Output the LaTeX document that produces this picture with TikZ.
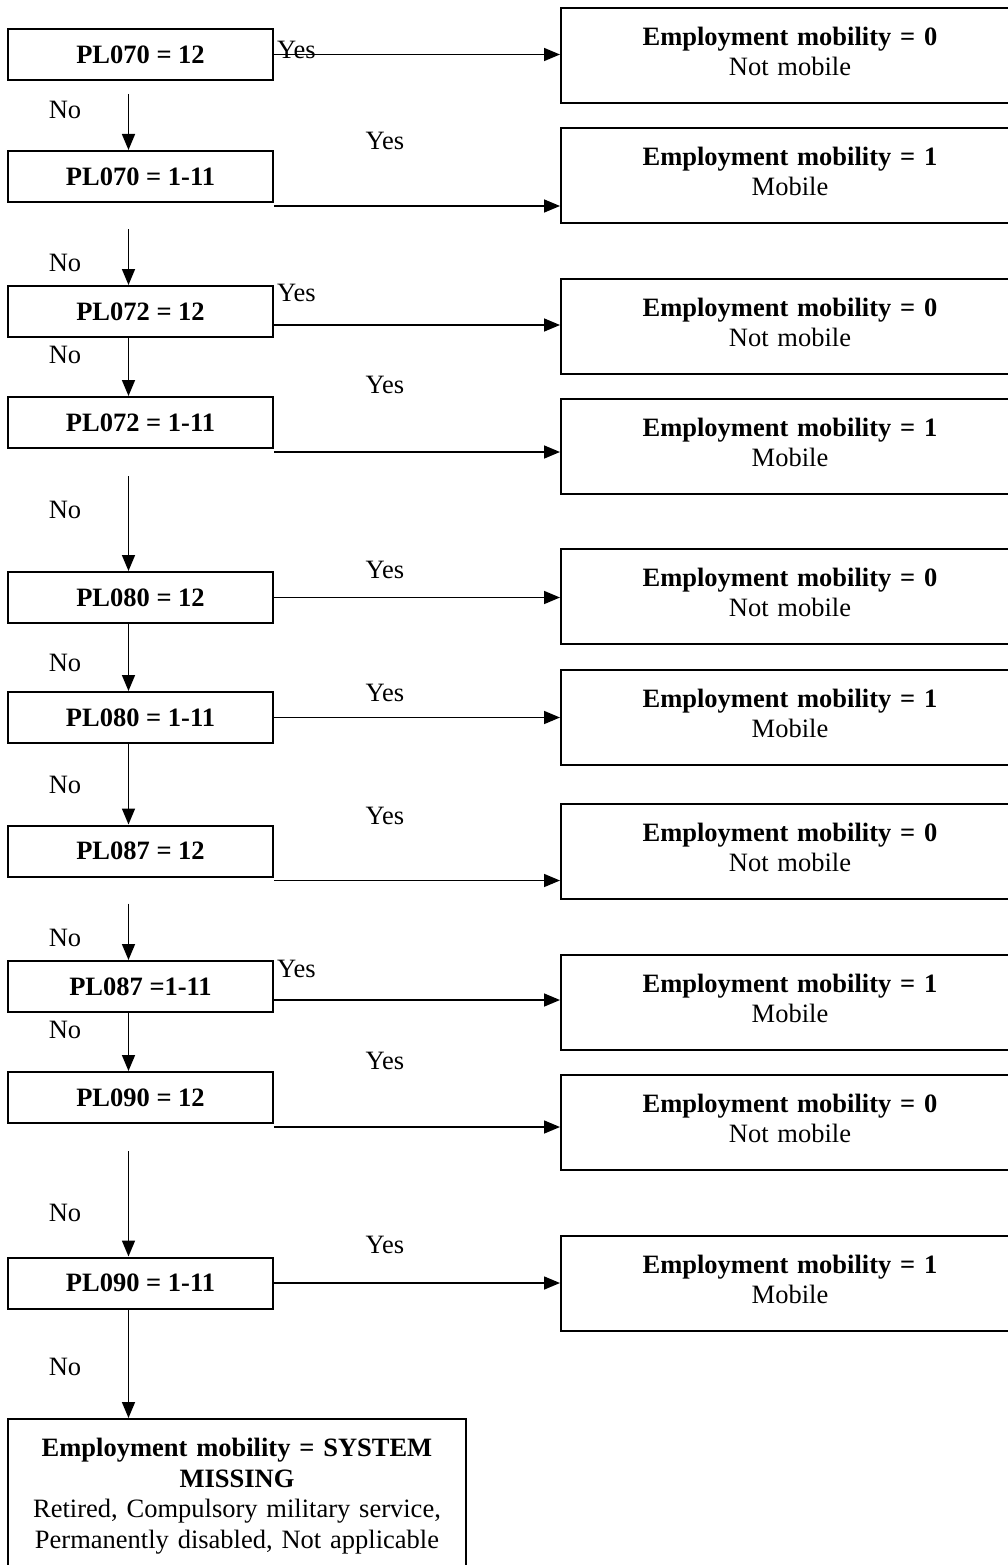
\documentclass[tikz,border=0pt]{standalone}
\usepackage{fontspec}
\setmainfont{Liberation Serif}
\usetikzlibrary{arrows.meta}

\newcommand{\lowstrut}{\rule[-8pt]{0pt}{8pt}}
\tikzset{
  qbox/.style={draw, line width=2pt, minimum width=265pt, minimum height=51pt,
    inner sep=0pt, font=\fontsize{26.5}{30.5}\selectfont\bfseries},
  rbox/.style={draw, line width=2pt, anchor=north west, minimum width=458pt,
    minimum height=95pt, text width=440pt, align=center, inner sep=0pt,
    font=\fontsize{26.5}{30.5}\selectfont},
  lab/.style={inner sep=0pt, font=\fontsize{26.5}{30.5}\selectfont},
  arr/.style={->, line width=1.6pt},
}

\begin{document}
\begin{tikzpicture}[x=1pt, y=-1pt, >={Triangle[length=16pt,width=13pt]}]
            \useasboundingbox (0,0) rectangle (1007,1565);

            % Cau hoi (cot trai)
            \node[qbox] (q1) at (140.5,54.5) {PL070 = 12};
            \node[qbox] (q2) at (140.5,176.5) {PL070 = 1-11};
            \node[qbox] (q3) at (140.5,311.5) {PL072 = 12};
            \node[qbox] (q4) at (140.5,422.5) {PL072 = 1-11};
            \node[qbox] (q5) at (140.5,597.5) {PL080 = 12};
            \node[qbox] (q6) at (140.5,717.5) {PL080 = 1-11};
            \node[qbox] (q7) at (140.5,851) {PL087 = 12};
            \node[qbox] (q8) at (140.5,986.5) {PL087 =1-11};
            \node[qbox] (q9) at (140.5,1097.5) {PL090 = 12};
            \node[qbox] (q10) at (140.5,1283) {PL090 = 1-11};
            \node[rbox, anchor=north] (miss) at (237,1418) [minimum height=154pt]
              {\textbf{Employment mobility = SYSTEM}\\\textbf{MISSING}\\
               Retired, Compulsory military service,\\Permanently disabled, Not applicable};

            % Ket qua (cot phai)
            \node[rbox] (r1) at (560,7) {\textbf{Employment mobility = 0}\\Not mobile\lowstrut};
            \node[rbox] (r2) at (560,127) {\textbf{Employment mobility = 1}\\Mobile\lowstrut};
            \node[rbox] (r3) at (560,278) {\textbf{Employment mobility = 0}\\Not mobile\lowstrut};
            \node[rbox] (r4) at (560,398) {\textbf{Employment mobility = 1}\\Mobile\lowstrut};
            \node[rbox] (r5) at (560,548) {\textbf{Employment mobility = 0}\\Not mobile\lowstrut};
            \node[rbox] (r6) at (560,669) {\textbf{Employment mobility = 1}\\Mobile\lowstrut};
            \node[rbox] (r7) at (560,803) {\textbf{Employment mobility = 0}\\Not mobile\lowstrut};
            \node[rbox] (r8) at (560,954) {\textbf{Employment mobility = 1}\\Mobile\lowstrut};
            \node[rbox] (r9) at (560,1074) {\textbf{Employment mobility = 0}\\Not mobile\lowstrut};
            \node[rbox] (r10) at (560,1235) {\textbf{Employment mobility = 1}\\Mobile\lowstrut};

            % Nhanh Yes
            \draw[arr] (q1.east) -- (q1.east -| r1.west);
            \draw[arr] ([yshift=-3pt]q2.south east) -- ([yshift=-3pt]q2.south east -| r2.west);
            \draw[arr] ([yshift=-13.5pt]q3.east) -- ([yshift=-13.5pt]q3.east -| r3.west);
            \draw[arr] ([yshift=-3pt]q4.south east) -- ([yshift=-3pt]q4.south east -| r4.west);
            \draw[arr] (q5.east) -- (q5.east -| r5.west);
            \draw[arr] (q6.east) -- (q6.east -| r6.west);
            \draw[arr] ([yshift=-3pt]q7.south east) -- ([yshift=-3pt]q7.south east -| r7.west);
            \draw[arr] ([yshift=-13.5pt]q8.east) -- ([yshift=-13.5pt]q8.east -| r8.west);
            \draw[arr] ([yshift=-3pt]q9.south east) -- ([yshift=-3pt]q9.south east -| r9.west);
            \draw[arr] (q10.east) -- (q10.east -| r10.west);
            \node[lab, anchor=west] (y1) at (277,50) {Yes};
            \node[lab] (y2) at (385,141) {Yes};
            \node[lab, anchor=west] (y3) at (277,293) {Yes};
            \node[lab] (y4) at (385,385) {Yes};
            \node[lab] (y5) at (385,570) {Yes};
            \node[lab] (y6) at (385,693) {Yes};
            \node[lab] (y7) at (385,816) {Yes};
            \node[lab, anchor=west] (y8) at (277,969) {Yes};
            \node[lab] (y9) at (385,1061) {Yes};
            \node[lab] (y10) at (385,1245) {Yes};

            % Nhanh No
            \draw[arr] ([shift={(-12pt,-13pt)}]q1.south) -- ([xshift=-12pt]q2.north);
            \draw[arr] ([shift={(-12pt,-26pt)}]q2.south) -- ([xshift=-12pt]q3.north);
            \draw[arr] ([xshift=-12pt]q3.south) -- ([xshift=-12pt]q4.north);
            \draw[arr] ([shift={(-12pt,-27pt)}]q4.south) -- ([xshift=-12pt]q5.north);
            \draw[arr] ([xshift=-12pt]q5.south) -- ([xshift=-12pt]q6.north);
            \draw[arr] ([xshift=-12pt]q6.south) -- ([xshift=-12pt]q7.north);
            \draw[arr] ([shift={(-12pt,-26pt)}]q7.south) -- ([xshift=-12pt]q8.north);
            \draw[arr] ([xshift=-12pt]q8.south) -- ([xshift=-12pt]q9.north);
            \draw[arr] ([shift={(-12pt,-27pt)}]q9.south) -- ([xshift=-12pt]q10.north);
            \draw[arr] ([xshift=-12pt]q10.south) -- ([xshift=-12pt]q10.south |- miss.north);
            \node[lab] (n1) at (65,110) {No};
            \node[lab] (n2) at (65,263) {No};
            \node[lab] (n3) at (65,355) {No};
            \node[lab] (n4) at (65,510) {No};
            \node[lab] (n5) at (65,663) {No};
            \node[lab] (n6) at (65,785) {No};
            \node[lab] (n7) at (65,938) {No};
            \node[lab] (n8) at (65,1030) {No};
            \node[lab] (n9) at (65,1213) {No};
            \node[lab] (n10) at (65,1367) {No};
        \end{tikzpicture}
\end{document}
